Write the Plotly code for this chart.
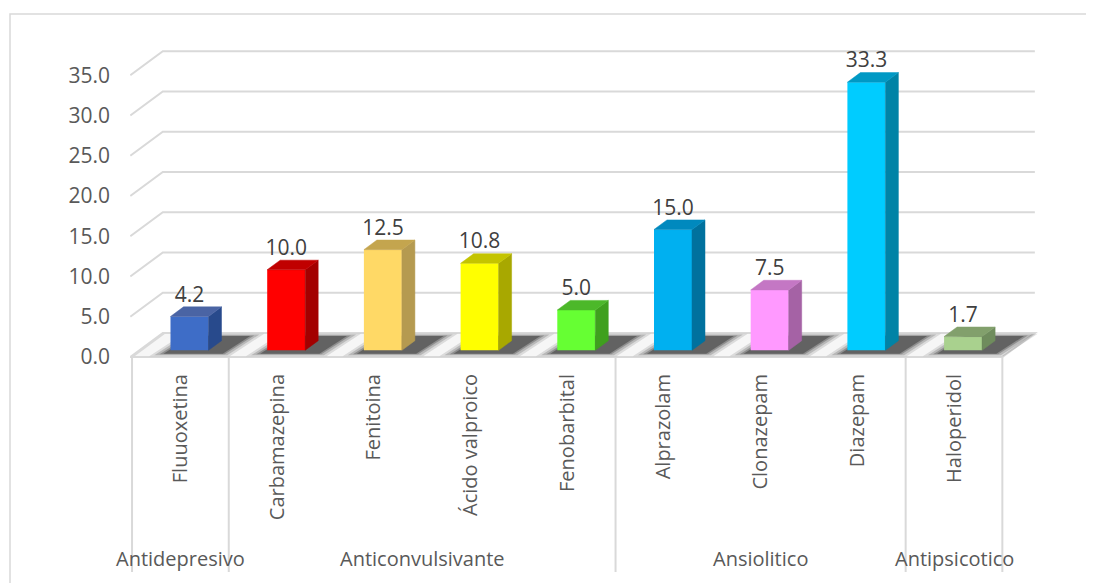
import plotly.graph_objects as go

# ---------------- data ----------------
categories = ["Fluuoxetina", "Carbamazepina", "Fenitoina", "Ácido valproico", "Fenobarbital",
              "Alprazolam", "Clonazepam", "Diazepam", "Haloperidol"]
values = [4.2, 10.0, 12.5, 10.8, 5.0, 15.0, 7.5, 33.3, 1.7]
groups = ["Antidepresivo", "Anticonvulsivante", "Ansiolitico", "Antipsicotico"]
group_sizes = [1, 4, 3, 1]
y_ticks = [0, 5, 10, 15, 20, 25, 30, 35]

front_colors = ["#3E6DC7", "#FF0000", "#FFD966", "#FFFF00", "#66FF33",
                "#00B0F0", "#FF99FF", "#00CCFF", "#A9D18E"]
side_colors = ["#284A8C", "#A30000", "#B59A50", "#A8A800", "#3FA01E",
               "#00719E", "#A562A5", "#0083A6", "#6F8C5D"]
top_colors = ["#4A64A4", "#C00000", "#C4A54E", "#C4C400", "#4CB82A",
              "#0089BE", "#C477C4", "#0099C4", "#82A06C"]

# ---------------- geometry ----------------
# the page body adds an 8px offset, so the figure is drawn 8px smaller
OFF = 8
W, H = 1094 - OFF, 583 - OFF
ML, MT = 130 - OFF, 40 - OFF
MR = W - (1040 - OFF)
MB = H - (575 - OFF)
plot_w = W - ML - MR
plot_h = H - MT - MB
PX_X = 96.7          # pixels per category
PX_Y = 8.05          # pixels per value unit
X0PIX = 180.4 - OFF  # pixel x of category 0 at the front edge
Y0PIX = 357.0 - OFF  # pixel y of value 0 at the front edge

x_range = [(ML - X0PIX) / PX_X, (W - MR - X0PIX) / PX_X]
y_range = [(Y0PIX - (H - MB)) / PX_Y, (Y0PIX - MT) / PX_Y]

DX = 32.5 / PX_X     # full floor depth, in x units
DY = 24.0 / PX_Y     # full floor depth, in y units
D0 = 0.28            # depth of the bar front faces
DD = 0.40            # bar depth
BW = 38.0 / PX_X     # bar width

n = len(categories)
idx = list(range(n))
base = D0 * DY

fig = go.Figure()

# front faces
fig.add_trace(go.Bar(
    x=idx, y=values, base=[base] * n, width=BW, offset=D0 * DX - BW / 2,
    marker=dict(color=front_colors, line=dict(width=0)), hoverinfo="skip"))

# side and top faces
for i, v in enumerate(values):
    xl = i + D0 * DX - BW / 2
    xr = xl + BW
    ddx, ddy = DD * DX, DD * DY
    fig.add_trace(go.Scatter(
        x=[xr, xr + ddx, xr + ddx, xr, xr],
        y=[base, base + ddy, base + v + ddy, base + v, base],
        mode="lines", fill="toself", fillcolor=side_colors[i],
        line=dict(color=side_colors[i], width=0.5), hoverinfo="skip"))
    fig.add_trace(go.Scatter(
        x=[xl, xr, xr + ddx, xl + ddx, xl],
        y=[base + v, base + v, base + v + ddy, base + v + ddy, base + v],
        mode="lines", fill="toself", fillcolor=top_colors[i],
        line=dict(color=top_colors[i], width=0.5), hoverinfo="skip"))

# value labels
fig.add_trace(go.Scatter(
    x=[i + D0 * DX for i in idx],
    y=[base + v + DD * DY for v in values],
    mode="text", text=[f"{v:.1f}" for v in values], textposition="top center",
    textfont=dict(family="Open Sans", size=21, color="#404040"), hoverinfo="skip"))

shapes = []
grid_col = "#D9D9D9"
# gridlines (front diagonal + back wall)
for v in y_ticks:
    xf = x_range[0] + 0.003
    shapes.append(dict(type="path", xref="x", yref="y", layer="below",
                       path=f"M{xf},{v} L{xf + DX},{v + DY} L{n - 0.5 + DX},{v + DY}",
                       line=dict(color=grid_col, width=2)))

# floor
fl, fr = -0.5, n - 0.5
shapes.append(dict(type="path", xref="x", yref="y", layer="below",
                   path=f"M{fl},0 L{fr},0 L{fr + DX},{DY} L{fl + DX},{DY} Z",
                   fillcolor="#F6F6F6", line=dict(color=grid_col, width=2)))

# soft shadows on the floor
for i in idx:
    xl = i + D0 * DX - BW / 2
    xr = xl + BW
    for grow, op in [(0.13, 0.12), (0.09, 0.18), (0.05, 0.26), (0.02, 0.38)]:
        d1 = max(0.16 - grow, 0.03)
        d2 = min(0.85 + grow, 0.97)
        a = xl - 0.10 - grow
        b = xr + 0.08 + grow
        sl = 0.04
        pts = [(a + d1 * DX, d1 * DY), (b + d1 * DX, d1 * DY),
               (b + sl + d2 * DX, d2 * DY), (a + sl + d2 * DX, d2 * DY)]
        path = "M" + " L".join(f"{px},{py}" for px, py in pts) + " Z"
        shapes.append(dict(type="path", xref="x", yref="y", layer="below", path=path,
                           fillcolor=f"rgba(25,25,25,{op})", line=dict(width=0)))

# group separators
y_sep_bottom = (Y0PIX - (572 - OFF)) / PX_Y
bounds = [-0.5]
acc = -0.5
for s in group_sizes:
    acc += s
    bounds.append(acc)
for bx in bounds:
    shapes.append(dict(type="line", xref="x", yref="y", x0=bx, x1=bx, y0=0, y1=y_sep_bottom,
                       line=dict(color=grid_col, width=2)))

# outer chart frame
shapes.append(dict(type="rect", xref="paper", yref="paper",
                   x0=(10 - OFF - ML) / plot_w, x1=1.2,
                   y0=-0.2, y1=(H - MB - (14 - OFF)) / plot_h,
                   line=dict(color=grid_col, width=1.5), fillcolor="rgba(0,0,0,0)", layer="below"))

# group labels
annotations = []
y_group = (Y0PIX - (558 - OFF)) / PX_Y
for g, s, b0 in zip(groups, group_sizes, bounds[:-1]):
    annotations.append(dict(x=b0 + s / 2, y=y_group, xref="x", yref="y", text=g,
                            showarrow=False, font=dict(family="Open Sans", size=20, color="#595959"),
                            xanchor="center", yanchor="middle"))

fig.update_layout(
    width=W, height=H,
    margin=dict(l=ML, r=MR, t=MT, b=MB, autoexpand=False),
    paper_bgcolor="white", plot_bgcolor="rgba(0,0,0,0)",
    showlegend=False, template="none",
    font=dict(family="Open Sans", color="#595959"),
    shapes=shapes, annotations=annotations,
    xaxis=dict(range=x_range, tickmode="array", tickvals=idx, ticktext=categories,
               tickangle=-90, anchor="free", position=(H - MB - Y0PIX) / plot_h,
               showgrid=False, zeroline=False, showline=False, ticks="",
               tickfont=dict(size=20, color="#595959"), ticklabelstandoff=12,
               automargin=False, fixedrange=True),
    yaxis=dict(range=y_range, tickmode="array", tickvals=y_ticks, tickformat=".1f",
               showgrid=False, zeroline=False, showline=False, ticks="",
               tickfont=dict(size=21, color="#595959"), ticklabelstandoff=19,
               automargin=False, fixedrange=True),
)

fig.write_html("out.html")
